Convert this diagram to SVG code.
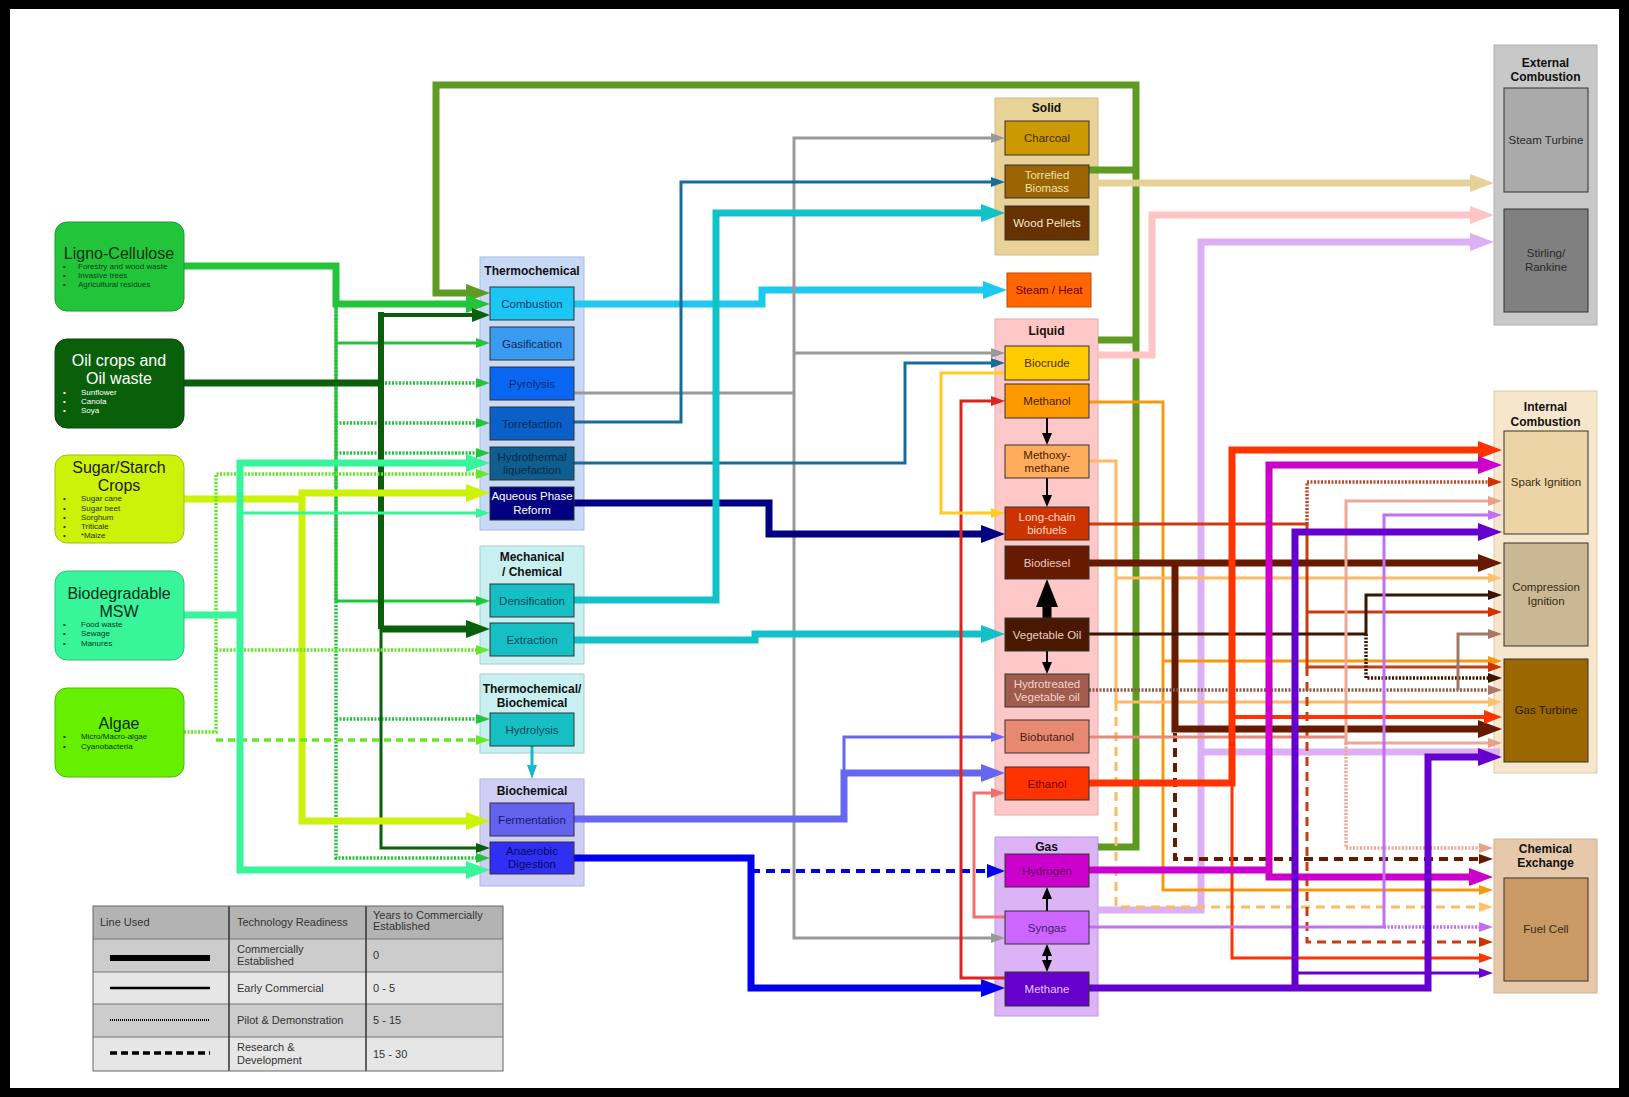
<svg xmlns="http://www.w3.org/2000/svg" width="1629" height="1097" viewBox="0 0 1629 1097">
<defs>
<style>
text{font-family:"Liberation Sans",Arial,sans-serif}
.ttl{font-weight:bold;font-size:12px;fill:#111;text-anchor:middle}
.lb{font-size:11.5px;text-anchor:middle}
.st{font-size:16px;text-anchor:middle}
.bu{font-size:8px}
.lg{font-size:11px;fill:#333}
.box{stroke:#333;stroke-width:1}
.src{stroke-width:1}
#connectors path{fill:none}
.T{stroke-width:7}.M{stroke-width:4}.t{stroke-width:3}.w6{stroke-width:6}
.dt{stroke-width:3.5;stroke-dasharray:2 1.5}
.dash{stroke-dasharray:9 6}
.dsh{stroke-width:3.5;stroke-dasharray:7 5}
</style>
<path id="ab" d="M0,-9L24,0L0,9Z"/>
<path id="am" d="M0,-7L18,0L0,7Z"/>
<path id="as" d="M0,-5L14,0L0,5Z"/>
<path id="ak" d="M0,-5L12,0L0,5Z"/>
<path id="abk" d="M0,-11L28,0L0,11Z"/>
</defs>
<rect width="1629" height="1097" fill="#000"/>
<rect x="10" y="9" width="1609" height="1079" fill="#fff"/>

<!-- containers -->
<g id="grp-thermochemical"><rect x="480" y="257" width="104" height="273" fill="#c8d9f5" stroke="#a9bde2"/><text class="ttl" x="532" y="275" font-size="12.5">Thermochemical</text></g>
<g id="grp-mechanical"><rect x="480" y="546" width="104" height="118" fill="#c8f0f0" stroke="#a8d0d0"/><text class="ttl" x="532" y="561">Mechanical</text><text class="ttl" x="532" y="576">/ Chemical</text></g>
<g id="grp-thermobio"><rect x="480" y="674" width="104" height="79" fill="#c8f0f0" stroke="#a8d0d0"/><text class="ttl" x="532" y="693">Thermochemical/</text><text class="ttl" x="532" y="707">Biochemical</text></g>
<g id="grp-biochemical"><rect x="480" y="779" width="104" height="107" fill="#cfcff5" stroke="#b0b0dc"/><text class="ttl" x="532" y="795">Biochemical</text></g>
<g id="grp-solid"><rect x="995" y="98" width="103" height="157" fill="#e8d298" stroke="#d2ba84"/><text class="ttl" x="1046.5" y="112">Solid</text></g>
<g id="grp-liquid"><rect x="995" y="319" width="103" height="496" fill="#ffc8c8" stroke="#e4aaaa"/><text class="ttl" x="1046.5" y="335">Liquid</text></g>
<g id="grp-gas"><rect x="995" y="837" width="103" height="179" fill="#dcb4f5" stroke="#c096e0"/><text class="ttl" x="1046.5" y="851">Gas</text></g>
<g id="grp-external"><rect x="1494" y="45" width="103" height="280" fill="#c8c8c8" stroke="#b0b0b0"/><text class="ttl" x="1545.5" y="67">External</text><text class="ttl" x="1545.5" y="81">Combustion</text></g>
<g id="grp-internal"><rect x="1494" y="391" width="103" height="382" fill="#f5e6cc" stroke="#dccaa8"/><text class="ttl" x="1545.5" y="411">Internal</text><text class="ttl" x="1545.5" y="426">Combustion</text></g>
<g id="grp-chemical"><rect x="1494" y="839" width="103" height="154" fill="#e6c8aa" stroke="#d0b090"/><text class="ttl" x="1545.5" y="853">Chemical</text><text class="ttl" x="1545.5" y="867">Exchange</text></g>

<g id="connectors">
<!-- olive loop back to combustion -->
<path class="T" stroke="#5d9b23" d="M1098,847H1136V85H436V293H466M1089,170H1136M1098,340H1136"/>
<use href="#ab" x="466" y="293" fill="#5d9b23"/>
<!-- Ligno-Cellulose -->
<path class="dt" stroke="#22c53a" d="M336,304V858H476M336,383H476M336,423H476M336,453H476M336,719H476"/>
<path class="t" stroke="#22c53a" d="M336,304V601H476M336,343H476"/>
<path class="T" stroke="#22c53a" d="M184,266H336V304H466"/>
<use href="#ab" x="466" y="304" fill="#22c53a"/>
<use href="#as" x="476" y="343" fill="#22c53a"/>
<use href="#as" x="476" y="601" fill="#22c53a"/>
<use href="#as" x="476" y="383" fill="#22c53a"/>
<use href="#as" x="476" y="423" fill="#22c53a"/>
<use href="#as" x="476" y="453" fill="#22c53a"/>
<use href="#as" x="476" y="719" fill="#22c53a"/>
<use href="#as" x="476" y="858" fill="#22c53a"/>
<!-- Oil crops -->
<path class="T" stroke="#0a600a" d="M184,383H381"/>
<path class="w6" stroke="#0a600a" d="M381,312V629"/>
<path class="M" stroke="#0a600a" d="M381,315H472"/>
<path class="T" stroke="#0a600a" d="M381,629H466"/>
<path class="t" stroke="#0a600a" d="M381,629V848H476"/>
<use href="#am" x="472" y="315" fill="#0a600a"/>
<use href="#ab" x="466" y="629" fill="#0a600a"/>
<use href="#as" x="476" y="848" fill="#0a600a"/>
<!-- Sugar / Starch -->
<path class="T" stroke="#cdf20a" d="M184,499H302M466,493H302V821H466"/>
<use href="#ab" x="466" y="493" fill="#cdf20a"/>
<use href="#ab" x="466" y="821" fill="#cdf20a"/>
<!-- Algae -->
<path class="dt" stroke="#66e82a" d="M184,732H216V474H476M216,650H476"/>
<path class="dsh" stroke="#66e82a" d="M216,740H476"/>
<use href="#as" x="476" y="474" fill="#66e82a"/>
<use href="#as" x="476" y="650" fill="#66e82a"/>
<use href="#as" x="476" y="740" fill="#66e82a"/>
<!-- MSW -->
<path class="T" stroke="#38f59a" d="M184,615H240M466,463H240V870H466"/>
<path class="t" stroke="#38f59a" d="M240,513H476"/>
<use href="#ab" x="466" y="463" fill="#38f59a"/>
<use href="#as" x="476" y="513" fill="#38f59a"/>
<use href="#ab" x="466" y="870" fill="#38f59a"/>
<!-- process outputs -->
<path class="T" stroke="#1ec8f0" d="M574,304H762V290H983"/>
<use href="#ab" x="983" y="290" fill="#1ec8f0"/>
<path class="t" stroke="#999" d="M574,393H794M991,138H794V938H991M794,353H991"/>
<use href="#as" x="991" y="138" fill="#999"/>
<use href="#as" x="991" y="353" fill="#999"/>
<use href="#as" x="991" y="938" fill="#999"/>
<path class="t" stroke="#1a6b9a" d="M574,422H681V182H991M574,463H905V363H991"/>
<use href="#as" x="991" y="182" fill="#1a6b9a"/>
<use href="#as" x="991" y="363" fill="#1a6b9a"/>
<path class="T" stroke="#000080" d="M574,503H769V534H981"/>
<use href="#ab" x="981" y="534" fill="#000080"/>
<path class="T" stroke="#12c2c8" d="M574,600H716V213H981M574,640H755V634H981"/>
<use href="#ab" x="981" y="213" fill="#12c2c8"/>
<use href="#ab" x="981" y="634" fill="#12c2c8"/>
<path class="T" stroke="#6666ee" d="M574,819H844V773H981"/>
<path class="t" stroke="#6666ee" d="M844,773V737H991"/>
<use href="#ab" x="981" y="773" fill="#6666ee"/>
<use href="#as" x="991" y="737" fill="#6666ee"/>
<path class="T" stroke="#0000ee" d="M574,858H751V988H981"/>
<path class="M dash" stroke="#0000ee" d="M751,871H987"/>
<use href="#ab" x="981" y="988" fill="#0000ee"/>
<use href="#am" x="987" y="871" fill="#0000ee"/>
<path class="t" stroke="#1ab8cc" d="M532,746V765"/>
<use href="#as" transform="translate(532,765) rotate(90)" fill="#1ab8cc"/>
<path class="t" stroke="#dd2222" d="M1005,978H961V401H991"/>
<use href="#as" x="991" y="401" fill="#dd2222"/>
<path class="t" stroke="#ffcc22" d="M1005,373H941V513H991"/>
<use href="#as" x="991" y="513" fill="#ffcc22"/>
<path class="t" stroke="#f07070" d="M1005,917H974V793H991"/>
<use href="#as" x="991" y="793" fill="#f07070"/>
<!-- conversions inside liquid / gas -->
<path stroke="#000" stroke-width="2" d="M1047,418V434M1047,478V496M1047,651V663M1047,911V899M1047,955V961"/>
<path stroke="#000" stroke-width="9" d="M1047,618V606"/>
<use href="#ak" transform="translate(1047,433) rotate(90)" fill="#000"/>
<use href="#ak" transform="translate(1047,495) rotate(90)" fill="#000"/>
<use href="#abk" transform="translate(1047,607) rotate(-90)" fill="#000"/>
<use href="#ak" transform="translate(1047,662) rotate(90)" fill="#000"/>
<use href="#ak" transform="translate(1047,899) rotate(-90)" fill="#000"/>
<use href="#ak" transform="translate(1047,956) rotate(-90)" fill="#000"/>
<use href="#ak" transform="translate(1047,960) rotate(90)" fill="#000"/>
<!-- to end uses -->
<path class="T" stroke="#e6d196" d="M1089,183H1470"/>
<use href="#ab" x="1470" y="183" fill="#e6d196"/>
<path class="T" stroke="#ffc4c4" d="M1098,355H1152V215H1470"/>
<use href="#ab" x="1470" y="215" fill="#ffc4c4"/>
<path class="T" stroke="#dcb0f5" d="M1098,910H1201V242H1470M1201,752H1500"/>
<use href="#ab" x="1470" y="242" fill="#dcb0f5"/>
<path class="t" stroke="#f59a10" d="M1089,402H1163V890H1479M1163,661H1488"/>
<use href="#as" x="1488" y="661" fill="#f59a10"/>
<use href="#as" x="1479" y="890" fill="#f59a10"/>
<path class="t" stroke="#ffb865" d="M1089,461H1116V702H1488M1116,578H1488"/>
<path class="t dash" stroke="#ffb865" d="M1116,702V907H1479"/>
<use href="#as" x="1488" y="578" fill="#ffc070"/>
<use href="#as" x="1488" y="702" fill="#ffc070"/>
<use href="#as" x="1479" y="907" fill="#ffc070"/>
<path class="t" stroke="#cc3a10" d="M1089,524H1307V667H1488M1307,612H1488"/>
<path class="dt" stroke="#b84a2a" d="M1307,524V482H1488"/>
<path class="t dash" stroke="#cc3a10" d="M1307,667V942H1479"/>
<use href="#as" x="1488" y="482" fill="#cc3300"/>
<use href="#as" x="1488" y="612" fill="#cc3300"/>
<use href="#as" x="1488" y="667" fill="#cc3300"/>
<use href="#as" x="1479" y="942" fill="#cc3300"/>
<path class="T" stroke="#661a00" d="M1089,563H1478M1175,563V729H1478"/>
<path class="M dash" stroke="#661a00" d="M1175,733V859H1479"/>
<use href="#ab" x="1478" y="563" fill="#661a00"/>
<use href="#ab" x="1478" y="729" fill="#661a00"/>
<use href="#as" x="1479" y="859" fill="#661a00"/>
<path class="t" stroke="#3a1500" d="M1089,634H1366V595H1488"/>
<path class="dt" stroke="#3a1500" d="M1366,634V678H1488"/>
<use href="#as" x="1488" y="595" fill="#3a1500"/>
<use href="#as" x="1488" y="678" fill="#3a1500"/>
<path class="dt" stroke="#8a5a4a" d="M1089,690H1488"/>
<path class="t" stroke="#a07868" d="M1458,690V634H1488"/>
<use href="#as" x="1488" y="690" fill="#a87868"/>
<use href="#as" x="1488" y="634" fill="#a87868"/>
<path class="t" stroke="#e38a78" d="M1089,737H1346"/>
<path class="t" stroke="#eaa898" d="M1488,501H1346V743H1488"/>
<path class="dt" stroke="#eaa898" d="M1346,743V848H1479"/>
<use href="#as" x="1488" y="501" fill="#e8a088"/>
<use href="#as" x="1488" y="743" fill="#e8a088"/>
<use href="#as" x="1479" y="848" fill="#e8a088"/>
<path class="T" stroke="#ff3300" d="M1089,783H1232V450H1478"/>
<path class="M" stroke="#ff3300" d="M1232,717H1484"/>
<path class="t" stroke="#ff3300" d="M1232,783V958H1479"/>
<use href="#ab" x="1478" y="450" fill="#ff3300"/>
<use href="#am" x="1484" y="717" fill="#ff3300"/>
<use href="#as" x="1479" y="958" fill="#ff3300"/>
<path class="T" stroke="#cc00cc" d="M1089,870H1269M1478,465H1269V877H1469"/>
<use href="#ab" x="1478" y="465" fill="#cc00cc"/>
<use href="#ab" x="1469" y="877" fill="#cc00cc"/>
<path class="t" stroke="#c070f0" d="M1089,927H1384V515H1488"/>
<path class="dt" stroke="#c070f0" d="M1384,927H1479"/>
<use href="#as" x="1488" y="515" fill="#c070f0"/>
<use href="#as" x="1479" y="927" fill="#c070f0"/>
<path class="T" stroke="#6600cc" d="M1089,988H1428V757H1478M1295,988V532H1478"/>
<path class="t" stroke="#6600cc" d="M1295,973H1479"/>
<use href="#ab" x="1478" y="757" fill="#6600cc"/>
<use href="#ab" x="1478" y="532" fill="#6600cc"/>
<use href="#as" x="1479" y="973" fill="#6600cc"/>
</g>

<!-- source nodes -->
<g id="ligno-cellulose"><rect class="src" x="55" y="222" width="129" height="89" rx="12" fill="#22c53a" stroke="#1a9a2c"/>
<text class="st" x="119" y="259" fill="#0c3010">Ligno-Cellulose</text>
<g class="bu" fill="#0c4414"><text x="63" y="269">•</text><text x="78" y="269">Forestry and wood waste</text><text x="63" y="278">•</text><text x="78" y="278">Invasive trees</text><text x="63" y="287">•</text><text x="78" y="287">Agricultural residues</text></g></g>
<g id="oil-crops"><rect class="src" x="55" y="339" width="129" height="89" rx="12" fill="#0a600a" stroke="#084808"/>
<text class="st" x="119" y="366" fill="#fff">Oil crops and</text><text class="st" x="119" y="384" fill="#fff">Oil waste</text>
<g class="bu" fill="#fff"><text x="63" y="395">•</text><text x="81" y="395">Sunflower</text><text x="63" y="404">•</text><text x="81" y="404">Canola</text><text x="63" y="413">•</text><text x="81" y="413">Soya</text></g></g>
<g id="sugar-starch"><rect class="src" x="55" y="455" width="129" height="88" rx="12" fill="#cdf20a" stroke="#a0bc10"/>
<text class="st" x="119" y="473" fill="#1a1a1a">Sugar/Starch</text><text class="st" x="119" y="491" fill="#1a1a1a">Crops</text>
<g class="bu" fill="#2a3000"><text x="63" y="501">•</text><text x="81" y="501">Sugar cane</text><text x="63" y="511">•</text><text x="81" y="511">Sugar beet</text><text x="63" y="520">•</text><text x="81" y="520">Sorghum</text><text x="63" y="529">•</text><text x="81" y="529">Triticale</text><text x="63" y="538">•</text><text x="81" y="538">*Maize</text></g></g>
<g id="msw"><rect class="src" x="55" y="571" width="129" height="89" rx="12" fill="#38f59a" stroke="#2cc07a"/>
<text class="st" x="119" y="599" fill="#0a2a1a">Biodegradable</text><text class="st" x="119" y="617" fill="#0a2a1a">MSW</text>
<g class="bu" fill="#0a3a20"><text x="63" y="627">•</text><text x="81" y="627">Food waste</text><text x="63" y="636">•</text><text x="81" y="636">Sewage</text><text x="63" y="646">•</text><text x="81" y="646">Manures</text></g></g>
<g id="algae"><rect class="src" x="55" y="688" width="129" height="89" rx="12" fill="#66f000" stroke="#50b800"/>
<text class="st" x="119" y="729" fill="#0a2a0a">Algae</text>
<g class="bu" fill="#0a300a"><text x="63" y="739">•</text><text x="81" y="739">Micro/Macro-algae</text><text x="63" y="749">•</text><text x="81" y="749">Cyanobacteria</text></g></g>

<!-- process nodes -->
<g id="combustion"><rect class="box" x="490" y="287" width="84" height="33" fill="#1cc6f4"/><text class="lb" x="532" y="308" fill="#0a3a6a">Combustion</text></g>
<g id="gasification"><rect class="box" x="490" y="327" width="84" height="33" fill="#3a9af0"/><text class="lb" x="532" y="348" fill="#0a2a5a">Gasification</text></g>
<g id="pyrolysis"><rect class="box" x="490" y="367" width="84" height="33" fill="#0a66f0"/><text class="lb" x="532" y="388" fill="#0a2a7a">Pyrolysis</text></g>
<g id="torrefaction"><rect class="box" x="490" y="407" width="84" height="33" fill="#0b60c8"/><text class="lb" x="532" y="428" fill="#0a2a5a">Torrefaction</text></g>
<g id="hydrothermal"><rect class="box" x="490" y="447" width="84" height="33" fill="#0e5e8e"/><text class="lb" x="532" y="461" fill="#0a2a4a">Hydrothermal</text><text class="lb" x="532" y="474" fill="#0a2a4a">liquefaction</text></g>
<g id="aqueous-phase-reform"><rect class="box" x="490" y="487" width="84" height="33" fill="#000080"/><text class="lb" x="532" y="500" fill="#fff">Aqueous Phase</text><text class="lb" x="532" y="514" fill="#fff">Reform</text></g>
<g id="densification"><rect class="box" x="490" y="584" width="84" height="33" fill="#16bfc4"/><text class="lb" x="532" y="605" fill="#0a4a5a">Densification</text></g>
<g id="extraction"><rect class="box" x="490" y="623" width="84" height="33" fill="#16bfc4"/><text class="lb" x="532" y="644" fill="#0a4a5a">Extraction</text></g>
<g id="hydrolysis"><rect class="box" x="490" y="713" width="84" height="33" fill="#16bfc4"/><text class="lb" x="532" y="734" fill="#0a4a5a">Hydrolysis</text></g>
<g id="fermentation"><rect class="box" x="490" y="803" width="84" height="33" fill="#6262ee"/><text class="lb" x="532" y="824" fill="#1a1a6a">Fermentation</text></g>
<g id="anaerobic-digestion"><rect class="box" x="490" y="842" width="84" height="32" fill="#3030f5"/><text class="lb" x="532" y="855" fill="#0a0a5a">Anaerobic</text><text class="lb" x="532" y="868" fill="#0a0a5a">Digestion</text></g>

<!-- fuel nodes -->
<g id="charcoal"><rect class="box" x="1005" y="121" width="84" height="34" fill="#cc9a00"/><text class="lb" x="1047" y="142" fill="#4a2a00">Charcoal</text></g>
<g id="torrefied-biomass"><rect class="box" x="1005" y="165" width="84" height="33" fill="#9a6500"/><text class="lb" x="1047" y="179" fill="#f0e0b0">Torrefied</text><text class="lb" x="1047" y="192" fill="#f0e0b0">Biomass</text></g>
<g id="wood-pellets"><rect class="box" x="1005" y="206" width="84" height="34" fill="#663300"/><text class="lb" x="1047" y="227" fill="#f5e6cc">Wood Pellets</text></g>
<g id="steam-heat"><rect x="1007" y="273" width="84" height="34" fill="#ff6600" stroke="#c04800"/><text class="lb" x="1049" y="294" fill="#6a0000">Steam / Heat</text></g>
<g id="biocrude"><rect class="box" x="1005" y="346" width="84" height="34" fill="#ffcc00"/><text class="lb" x="1047" y="367" fill="#4a3000">Biocrude</text></g>
<g id="methanol"><rect class="box" x="1005" y="384" width="84" height="34" fill="#ff9900"/><text class="lb" x="1047" y="405" fill="#4a2000">Methanol</text></g>
<g id="methoxy-methane"><rect class="box" x="1005" y="445" width="84" height="33" fill="#ffad5c"/><text class="lb" x="1047" y="459" fill="#4a2000">Methoxy-</text><text class="lb" x="1047" y="472" fill="#4a2000">methane</text></g>
<g id="long-chain-biofuels"><rect class="box" x="1005" y="507" width="84" height="33" fill="#cc3300"/><text class="lb" x="1047" y="521" fill="#ffd8c8">Long-chain</text><text class="lb" x="1047" y="534" fill="#ffd8c8">biofuels</text></g>
<g id="biodiesel"><rect class="box" x="1005" y="546" width="84" height="33" fill="#661a00"/><text class="lb" x="1047" y="567" fill="#e8c8c0">Biodiesel</text></g>
<g id="vegetable-oil"><rect class="box" x="1005" y="618" width="84" height="33" fill="#4a1800"/><text class="lb" x="1047" y="639" fill="#e8d0c8">Vegetable Oil</text></g>
<g id="hydrotreated-vegetable-oil"><rect class="box" x="1005" y="674" width="84" height="33" fill="#a05c4c"/><text class="lb" x="1047" y="688" fill="#f4d4cc">Hydrotreated</text><text class="lb" x="1047" y="701" fill="#f4d4cc">Vegetable oil</text></g>
<g id="biobutanol"><rect class="box" x="1005" y="720" width="84" height="33" fill="#e88a72"/><text class="lb" x="1047" y="741" fill="#4a1a10">Biobutanol</text></g>
<g id="ethanol"><rect class="box" x="1005" y="767" width="84" height="33" fill="#ff3300"/><text class="lb" x="1047" y="788" fill="#7a0000">Ethanol</text></g>
<g id="hydrogen"><rect class="box" x="1005" y="854" width="84" height="33" fill="#cc00cc"/><text class="lb" x="1047" y="875" fill="#5a005a">Hydrogen</text></g>
<g id="syngas"><rect class="box" x="1005" y="911" width="84" height="33" fill="#cc66ff"/><text class="lb" x="1047" y="932" fill="#4a1a6a">Syngas</text></g>
<g id="methane"><rect class="box" x="1005" y="972" width="84" height="34" fill="#6600cc"/><text class="lb" x="1047" y="993" fill="#e0c8ff">Methane</text></g>

<!-- end-use nodes -->
<g id="steam-turbine"><rect class="box" x="1504" y="88" width="84" height="104" fill="#aaaaaa" stroke="#555"/><text class="lb" x="1546" y="144" fill="#2a2a2a">Steam Turbine</text></g>
<g id="stirling-rankine"><rect class="box" x="1504" y="209" width="84" height="103" fill="#808080"/><text class="lb" x="1546" y="257" fill="#2a2a2a">Stirling/</text><text class="lb" x="1546" y="271" fill="#2a2a2a">Rankine</text></g>
<g id="spark-ignition"><rect class="box" x="1504" y="431" width="84" height="103" fill="#ecd4a6"/><text class="lb" x="1546" y="486" fill="#3a2a10">Spark Ignition</text></g>
<g id="compression-ignition"><rect class="box" x="1504" y="543" width="84" height="103" fill="#c9b893"/><text class="lb" x="1546" y="591" fill="#3a2a10">Compression</text><text class="lb" x="1546" y="605" fill="#3a2a10">Ignition</text></g>
<g id="gas-turbine"><rect class="box" x="1504" y="659" width="84" height="103" fill="#9b6700"/><text class="lb" x="1546" y="714" fill="#2a1a00">Gas Turbine</text></g>
<g id="fuel-cell"><rect class="box" x="1504" y="878" width="84" height="103" fill="#c99a66"/><text class="lb" x="1546" y="933" fill="#3a2a10">Fuel Cell</text></g>

<!-- legend -->
<g id="legend">
<rect x="93" y="906" width="410" height="33" fill="#b3b3b3"/>
<rect x="93" y="939" width="410" height="33" fill="#cccccc"/>
<rect x="93" y="972" width="410" height="32" fill="#e6e6e6"/>
<rect x="93" y="1004" width="410" height="33" fill="#cccccc"/>
<rect x="93" y="1037" width="410" height="34" fill="#e6e6e6"/>
<path d="M93,939H503M93,972H503M93,1004H503M93,1037H503" stroke="#777" stroke-width="1" fill="none"/>
<path d="M229,906V1071M366,906V1071" stroke="#333" stroke-width="1.5" fill="none"/>
<rect x="93" y="906" width="410" height="165" fill="none" stroke="#666"/>
<path d="M110,958H210" stroke="#000" stroke-width="6"/>
<path d="M110,988H210" stroke="#000" stroke-width="2.5"/>
<path d="M110,1020H210" stroke="#000" stroke-width="2" stroke-dasharray="1 1"/>
<path d="M110,1053H210" stroke="#000" stroke-width="3.5" stroke-dasharray="7 4"/>
<text class="lg" x="100" y="926">Line Used</text>
<text class="lg" x="237" y="926">Technology Readiness</text>
<text class="lg" x="373" y="919">Years to Commercially</text>
<text class="lg" x="373" y="930">Established</text>
<text class="lg" x="237" y="953">Commercially</text>
<text class="lg" x="237" y="965">Established</text>
<text class="lg" x="373" y="959">0</text>
<text class="lg" x="237" y="992">Early Commercial</text>
<text class="lg" x="373" y="992">0 - 5</text>
<text class="lg" x="237" y="1024">Pilot &amp; Demonstration</text>
<text class="lg" x="373" y="1024">5 - 15</text>
<text class="lg" x="237" y="1051">Research &amp;</text>
<text class="lg" x="237" y="1064">Development</text>
<text class="lg" x="373" y="1058">15 - 30</text>
</g>
</svg>
